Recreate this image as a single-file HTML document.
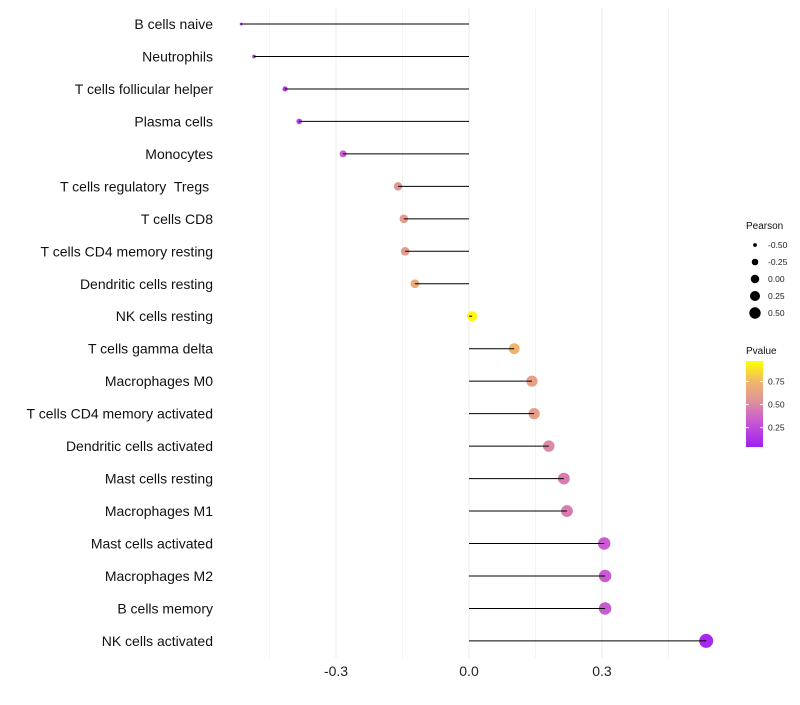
<!DOCTYPE html>
<html><head><meta charset="utf-8"><style>
body{margin:0;background:#fff;font-family:"Liberation Sans",sans-serif;}
svg text{font-family:"Liberation Sans",sans-serif;white-space:pre;}
</style></head><body>
<svg id="c" width="800" height="700"></svg>
<script>
const categories=["B cells naive","Neutrophils","T cells follicular helper","Plasma cells","Monocytes","T cells regulatory  Tregs ","T cells CD8","T cells CD4 memory resting","Dendritic cells resting","NK cells resting","T cells gamma delta","Macrophages M0","T cells CD4 memory activated","Dendritic cells activated","Mast cells resting","Macrophages M1","Mast cells activated","Macrophages M2","B cells memory","NK cells activated"];
const pearson=[-0.514,-0.485,-0.415,-0.383,-0.284,-0.160,-0.147,-0.144,-0.122,0.007,0.102,0.142,0.147,0.180,0.214,0.221,0.305,0.307,0.307,0.535];
const pvalue=[0.05,0.08,0.12,0.15,0.32,0.55,0.58,0.58,0.68,0.97,0.75,0.62,0.6,0.5,0.44,0.44,0.3,0.3,0.3,0.04];
const xTicks=[-0.3,0,0.3];
const xMinor=[-0.45,-0.15,0.15,0.45];
const sizeLegend=[-0.5,-0.25,0,0.25,0.5];
const pTicks=[0.25,0.5,0.75];
const NS="http://www.w3.org/2000/svg";
const svg=document.getElementById('c');
function el(t,a,p){const e=document.createElementNS(NS,t);for(const k in a)e.setAttribute(k,a[k]);(p||svg).appendChild(e);return e;}
const x=v=>469+v*443.3;
const y=i=>24+i*32.47;
const r=p=>Math.sqrt(Math.max(1.5,25+44.7*p));
const rl=p=>Math.sqrt(Math.max(1,20+32*p));
const stops=[[0,[160,32,240]],[0.3,[200,90,210]],[0.55,[225,150,150]],[0.75,[240,180,110]],[1,[255,255,0]]];
function col(p){for(let i=1;i<stops.length;i++){if(p<=stops[i][0]){const a=stops[i-1],b=stops[i],t=(p-a[0])/(b[0]-a[0]);const c=a[1].map((v,k)=>Math.round(v+(b[1][k]-v)*t));return `rgb(${c})`;}}return 'rgb(255,255,0)';}
const yp=p=>447-(p-0.04)/0.25*23/0.997;
xMinor.forEach(v=>{const l=el('line',{x1:x(v),x2:x(v),y1:8,y2:658,stroke:'#f3f3f3'});

});
xTicks.forEach(v=>{const l=el('line',{x1:x(v),x2:x(v),y1:8,y2:658,stroke:'#ebebeb'});


const t=el('text',{x:x(v),y:676,'text-anchor':'middle','font-size':14,fill:'#222'});t.textContent=v.toFixed(1);

});
categories.forEach((c,i)=>{
const t=el('text',{x:213,y:y(i)+5,'text-anchor':'end','font-size':14,fill:'#111'});t.textContent=c;


const d=el('circle',{cx:x(pearson[i]),cy:y(i),r:r(pearson[i]),fill:col(pvalue[i])});


const l=el('line',{x1:x(0),x2:x(pearson[i]),y1:y(i),y2:y(i),stroke:'#000','stroke-width':1});


});
const lt=el('text',{x:746,y:229,'font-size':10,fill:'#111'});lt.textContent='Pearson';


sizeLegend.forEach((v,i)=>{const cy=245+i*17;
const c=el('circle',{cx:755,cy:cy,r:rl(v)*0.95,fill:'#000'});


const t=el('text',{x:768,y:cy+3,'font-size':8.5,fill:'#222'});t.textContent=v.toFixed(2);

});
const pt=el('text',{x:746,y:354,'font-size':10,fill:'#111'});pt.textContent='Pvalue';


const defs=el('defs',{});const g=el('linearGradient',{id:'pg',x1:0,y1:1,x2:0,y2:0},defs);
stops.forEach(s=>el('stop',{offset:s[0],'stop-color':col(s[0])},g));
const bar=el('rect',{x:746,y:361,width:17,height:86,fill:'url(#pg)'});


pTicks.forEach(v=>{const yy=yp(v);
el('line',{x1:746,x2:749,y1:yy,y2:yy,stroke:'#fff'});el('line',{x1:760,x2:763,y1:yy,y2:yy,stroke:'#fff'});
const t=el('text',{x:768,y:yy+3,'font-size':8.5,fill:'#222'});t.textContent=v.toFixed(2);

});
</script>
</body></html>
